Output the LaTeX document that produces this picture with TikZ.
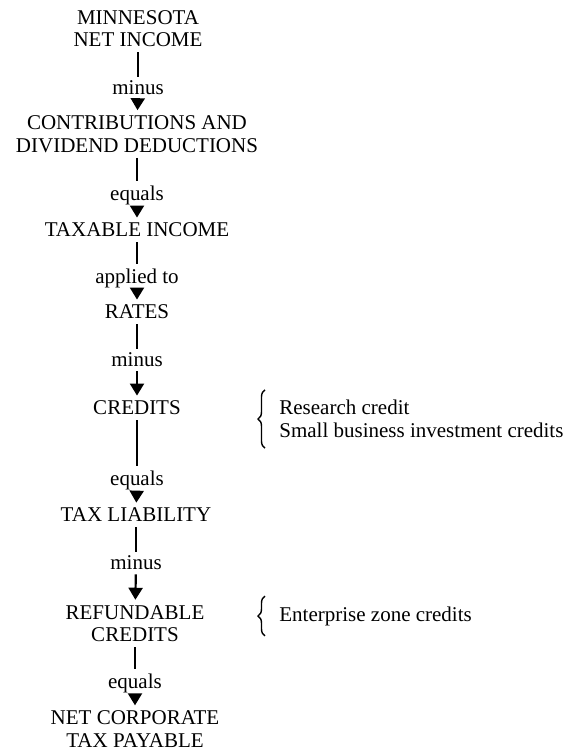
\documentclass[tikz,border=0pt]{standalone}
\usepackage{fontspec}
\setmainfont{Liberation Serif}
\usetikzlibrary{arrows.meta,decorations.pathreplacing}

\tikzset{
  stage/.style={align=center, inner sep=2.5pt},
  oplabel/.style={inner sep=2pt},
  flow/.style={line width=1.1pt, -{Triangle[width=7pt,length=6pt]}},
  link/.style={line width=1.1pt},
  note/.style={align=left, inner xsep=0pt, inner ysep=5pt},
  bracket/.style={line width=0.7pt, decorate, decoration={brace, amplitude=3.5pt}}
}

\begin{document}
\begin{tikzpicture}[x=0.5pt, y=-0.5pt, every node/.style={font=\fontsize{10.5}{11.3}\selectfont}]
    \useasboundingbox (0,0) rectangle (573,752);
    % main column
    \node [stage] (mni)   at (138,28.5) {MINNESOTA\\NET INCOME};
    \node [stage] (cdd)   at (137,134)  {CONTRIBUTIONS AND\\DIVIDEND DEDUCTIONS};
    \node [stage] (ti)    at (137,230)  {TAXABLE INCOME};
    \node [stage] (rates) at (137,312)  {RATES};
    \node [stage] (cred)  at (137,408)  {CREDITS};
    \node [stage] (tl)    at (136,515)  {TAX LIABILITY};
    \node [stage] (rc)    at (135,623.5) {REFUNDABLE\\CREDITS};
    \node [stage] (nctp)  at (135,729)  {NET CORPORATE\\TAX PAYABLE};
    % operations
    \node [oplabel] (op1) at (138,88)  {minus};
    \node [oplabel] (op2) at (137,195) {equals};
    \node [oplabel] (op3) at (137,278) {applied to};
    \node [oplabel] (op4) at (137,360) {minus};
    \node [oplabel] (op5) at (137,480) {equals};
    \node [oplabel] (op6) at (136,563) {minus};
    \node [oplabel] (op7) at (135,683) {equals};
    % connectors
    \draw [link] (mni) -- (op1);   \draw [flow] (op1) -- (cdd);
    \draw [link] (cdd) -- (op2);   \draw [flow] (op2) -- (ti);
    \draw [link] (ti) -- (op3);    \draw [flow] (op3) -- (rates);
    \draw [link] (rates) -- (op4); \draw [flow] (op4) -- (cred);
    \draw [link] (cred) -- (op5);  \draw [flow] (op5) -- (tl);
    \draw [link] (tl) -- (op6);    \draw [flow] (op6) -- (rc);
    \draw [link] (rc) -- (op7);    \draw [flow] (op7) -- (nctp);
    % side notes
    \node [note, anchor=west] (credlist) at (279,419) {Research credit\\Small business investment credits};
    \node [note, anchor=west] (ezone) at (279,616) {Enterprise zone credits};
    \draw [bracket] ([xshift=-7pt]credlist.south west) -- ([xshift=-7pt]credlist.north west);
    \draw [bracket] ([xshift=-7pt]ezone.south west) -- ([xshift=-7pt]ezone.north west);
\end{tikzpicture}
\end{document}
